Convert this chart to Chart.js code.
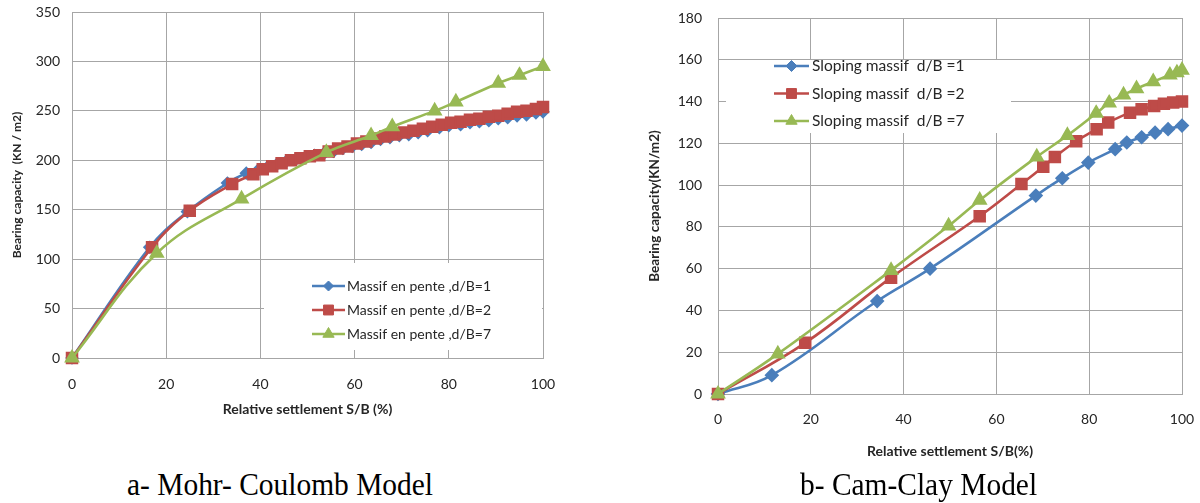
<!DOCTYPE html>
<html>
<head>
<meta charset="utf-8">
<script src="https://cdn.jsdelivr.net/npm/chart.js@4/dist/chart.umd.min.js"></script>
<style>
    html, body { margin: 0; padding: 0; background: #fff; }
    body { width: 1200px; height: 503px; position: relative; overflow: hidden; }
    .panel { position: absolute; top: 0; }
    .caption {
        position: absolute;
        font-family: "Liberation Serif", serif;
        font-size: 32px;
        color: #000;
        white-space: nowrap;
        transform: scaleX(0.92);
        transform-origin: left top;
    }
</style>
</head>
<body>
<div class="panel" style="left:0px"><canvas id="mohrChart" width="600" height="425"></canvas></div>
<div class="panel" style="left:630px"><canvas id="camChart" width="570" height="470"></canvas></div>
<div class="caption" style="left:127px; top:466px">a- Mohr- Coulomb Model</div>
<div class="caption" style="left:800px; top:466px">b- Cam-Clay Model</div>
<script>
// a- Mohr-Coulomb
const mcLabels = ["Massif en pente ,d/B=1", "Massif en pente ,d/B=2", "Massif en pente ,d/B=7"];
const mcBlueX = [0, 16.5, 24.5, 33, 37, 39.5, 41.5, 43.5, 45.5, 47.5, 49.5, 51.5, 53.5, 55.5, 57.5, 59.5, 61.5, 63.5, 65.5, 67.5, 69.5, 71.5, 73.5, 75.5, 78, 80, 82.5, 84.5, 86.5, 88.5, 90.5, 92.5, 94.5, 96.5, 98.5, 100];
const mcBlueY = [0, 112, 148, 177, 187, 190, 193, 196, 199, 201, 203, 205, 207, 209, 212, 214, 216, 218, 221, 223, 225, 226, 228, 230, 233, 235, 236, 238, 239, 240, 242, 243, 245, 246, 248, 249];
const mcRedX = [0, 17, 25, 34, 38.5, 40.5, 42.5, 44.5, 46.5, 48.5, 50.5, 52.5, 54.5, 56.5, 58.5, 60.5, 62.5, 64.5, 66.5, 68.5, 70.5, 72.5, 74.5, 76.5, 78.5, 80.5, 82.5, 84.5, 86.5, 88.5, 90.5, 92.5, 94.5, 96.5, 98.5, 100];
const mcRedY = [0, 112, 149, 176, 186, 191, 194, 197, 200, 202, 204, 205, 209, 212, 214, 217, 219, 222, 224, 226, 228, 230, 232, 234, 236, 238, 239, 241, 242, 244, 245, 247, 249, 250, 252, 254];
const mcGreenX = [0, 18, 36, 54, 63.5, 68, 77, 81.5, 90.5, 95, 100];
const mcGreenY = [0, 106, 161, 208, 225, 234, 250, 259, 278, 286, 295];
const mcXTicks = [0, 20, 40, 60, 80, 100];
const mcYTicks = [0, 50, 100, 150, 200, 250, 300, 350];

// b- Cam-Clay
const ccLabels = ["Sloping massif  d/B =1", "Sloping massif  d/B =2", "Sloping massif  d/B =7"];
const ccBlueX = [0, 11.6, 34.3, 45.7, 68.5, 74.2, 79.8, 85.6, 88.1, 91.3, 94.2, 97, 100];
const ccBlueY = [0, 9, 44.5, 60, 95, 103.3, 110.8, 117.2, 120.4, 122.9, 125.1, 126.8, 128.5];
const ccRedX = [0, 18.8, 37.3, 56.4, 65.4, 70.1, 72.6, 77.2, 81.6, 84.1, 88.8, 91.3, 94, 96.1, 98.1, 100];
const ccRedY = [0, 24.5, 55.7, 85.1, 100.5, 108.8, 113.5, 121, 126.8, 130, 134.7, 136.3, 137.9, 139, 139.5, 140];
const ccGreenX = [0, 12.9, 37.3, 49.7, 56.4, 68.7, 75.3, 81.5, 84.3, 87.4, 90.2, 93.8, 97.4, 98.9, 100];
const ccGreenY = [0, 19.2, 59.2, 80.5, 92.8, 113.5, 123.8, 134.4, 139.3, 143.2, 146.2, 149.5, 152.7, 153.8, 155];
const ccXTicks = [0, 20, 40, 60, 80, 100];
const ccYTicks = [0, 20, 40, 60, 80, 100, 120, 140, 160, 180];

const BLUE = "#4a7ebb";
const RED = "#be4b48";
const GREEN = "#98b954";
const GRID = "#a6a6a6";
const TEXT = "#262626";

const toPoints = (xs, ys) => xs.map((x, i) => ({ x, y: ys[i] }));

// legend drawn inside the plot, Excel style (line with marker in the middle)
const insideLegend = {
    id: "insideLegend",
    beforeDatasetsDraw(chart, args, opts) {
        const ctx = chart.ctx;
        const [bx, by, bw, bh] = opts.box;
        ctx.save();
        ctx.fillStyle = "#fff";
        ctx.fillRect(bx, by, bw, bh);
        ctx.restore();
    },
    afterDraw(chart, args, opts) {
        const ctx = chart.ctx;
        ctx.save();
        chart.data.datasets.forEach((ds, i) => {
            const y = opts.top + i * opts.rowGap;
            ctx.strokeStyle = ds.borderColor;
            ctx.lineWidth = ds.borderWidth;
            ctx.beginPath();
            ctx.moveTo(opts.left, y);
            ctx.lineTo(opts.left + opts.lineLen, y);
            ctx.stroke();
            ctx.fillStyle = ds.pointBackgroundColor;
            ctx.strokeStyle = ds.pointBorderColor;
            ctx.lineWidth = 1;
            Chart.helpers.drawPoint(ctx, { pointStyle: ds.pointStyle, radius: ds.pointRadius, borderWidth: 1, rotation: 0 }, opts.left + opts.lineLen / 2, y);
            ctx.fillStyle = TEXT;
            ctx.font = opts.font;
            ctx.textBaseline = "middle";
            ctx.textAlign = "left";
            ctx.fillText(ds.label, opts.left + opts.lineLen + opts.textGap, y);
        });
        ctx.restore();
    },
};

const series = (label, data, color, style, radius, order) => ({
    label,
    data,
    borderColor: color,
    backgroundColor: color,
    pointBackgroundColor: color,
    pointBorderColor: color,
    borderWidth: 2.6,
    pointStyle: style,
    pointRadius: radius,
    pointHoverRadius: radius,
    tension: 0.4,
    clip: false,
    order,
});

const makeChart = (id, cfg) => new Chart(document.getElementById(id), {
    type: "line",
    data: { datasets: cfg.datasets },
    options: {
        responsive: false,
        animation: false,
        layout: { autoPadding: false, padding: cfg.padding },
        plugins: {
            legend: { display: false },
            tooltip: { enabled: false },
            insideLegend: cfg.legend,
        },
        scales: {
            x: {
                type: "linear",
                min: 0,
                max: 100,
                afterBuildTicks: (s) => { s.ticks = cfg.xTicks.map((value) => ({ value })); },
                afterFit: (s) => { s.height = cfg.xHeight; s.paddingLeft = 0; s.paddingRight = 0; },
                grid: { color: GRID, lineWidth: 1, drawTicks: false },
                border: { color: GRID, width: 1 },
                ticks: { color: TEXT, font: { family: "Lato", size: 14 }, padding: cfg.xTickPad, maxRotation: 0 },
                title: { display: true, text: cfg.xTitle, color: TEXT, font: { family: "Lato", size: 14, weight: "bold" }, padding: { bottom: cfg.xTitlePad } },
            },
            y: {
                type: "linear",
                min: 0,
                max: cfg.yMax,
                afterBuildTicks: (s) => { s.ticks = cfg.yTicks.map((value) => ({ value })); },
                afterFit: (s) => { s.width = cfg.yWidth; s.paddingTop = 0; s.paddingBottom = 0; },
                grid: { color: GRID, lineWidth: 1, drawTicks: false },
                border: { color: GRID, width: 1 },
                ticks: { color: TEXT, font: { family: "Lato", size: 14 }, padding: cfg.yTickPad },
                title: { display: true, text: cfg.yTitle, color: TEXT, font: { family: "Lato", size: cfg.yTitleSize, weight: "bold" }, padding: { top: cfg.yTitlePad } },
            },
        },
    },
    plugins: [insideLegend],
});

makeChart("mohrChart", {
    datasets: [
        series(mcLabels[0], toPoints(mcBlueX, mcBlueY), BLUE, "rectRot", 5, 3),
        series(mcLabels[1], toPoints(mcRedX, mcRedY), RED, "rect", 7, 2),
        series(mcLabels[2], toPoints(mcGreenX, mcGreenY), GREEN, "triangle", 6.5, 1),
    ],
    padding: { top: 12, right: 57, left: 0, bottom: 0 },
    xHeight: 67,
    yWidth: 72,
    yMax: 350,
    xTicks: mcXTicks,
    yTicks: mcYTicks,
    xTickPad: 18,
    yTickPad: 12,
    xTitle: "Relative settlement S/B (%)",
    yTitle: "Bearing capacity  (KN / m2)",
    yTitleSize: 12,
    xTitlePad: 7,
    yTitlePad: 10,
    legend: { box: [264, 263, 278, 87], left: 312, top: 286, rowGap: 24, lineLen: 33, textGap: 2, font: "14px Lato" },
});

makeChart("camChart", {
    datasets: [
        series(ccLabels[0], toPoints(ccBlueX, ccBlueY), BLUE, "rectRot", 5.5, 3),
        series(ccLabels[1], toPoints(ccRedX, ccRedY), RED, "rect", 7, 2),
        series(ccLabels[2], toPoints(ccGreenX, ccGreenY), GREEN, "triangle", 6.5, 1),
    ],
    padding: { top: 18, right: 18, left: 0, bottom: 0 },
    xHeight: 76,
    yWidth: 88,
    yMax: 180,
    xTicks: ccXTicks,
    yTicks: ccYTicks,
    xTickPad: 17,
    yTickPad: 16,
    xTitle: "Relative settlement S/B(%)",
    yTitle: "Bearing capacity(KN/m2)",
    yTitleSize: 13.5,
    xTitlePad: 10,
    yTitlePad: 17,
    legend: { box: [96, 60, 285, 73], left: 144, top: 66, rowGap: 27.5, lineLen: 35, textGap: 3, font: "15.5px Lato" },
});
</script>
</body>
</html>
